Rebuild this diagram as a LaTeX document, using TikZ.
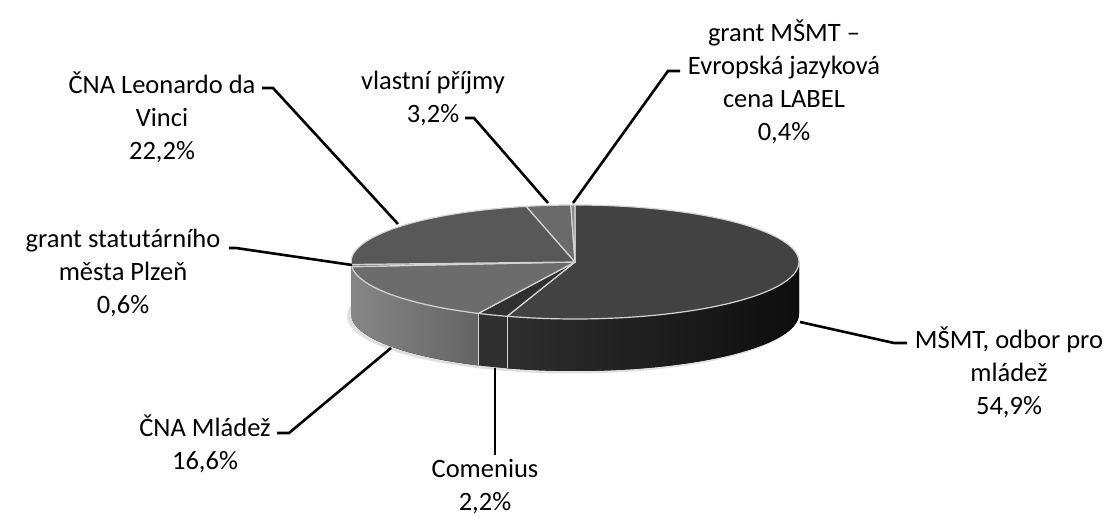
\documentclass[tikz,border=0pt]{standalone}
\usepackage{fontspec}
\setmainfont{Carlito}
\usetikzlibrary{calc,positioning}
\definecolor{mstop}{HTML}{424242}
\definecolor{msideL}{HTML}{2E2E2E}
\definecolor{msideR}{HTML}{0E0E0E}
\definecolor{comtop}{HTML}{303030}
\definecolor{mlatop}{HTML}{6C6C6C}
\definecolor{mlasideL}{HTML}{868686}
\definecolor{mlasideR}{HTML}{646464}
\definecolor{statop}{HTML}{6A6A6A}
\definecolor{leotop}{HTML}{585858}
\definecolor{vptop}{HTML}{6A6A6A}
\definecolor{labtop}{HTML}{8C8C8C}
\definecolor{rimline}{HTML}{D4D4D4}
\tikzset{
    rim/.style={
    x radius=224,y radius=57
    },
    lbl/.style={
    align=center,inner sep=0pt,font=\fontsize{13.25}{16.5}\selectfont
    },
    leader/.style={
    draw=black,line width=1.3pt
    },
    slice/.style={
    draw=rimline,line width=0.6pt,line join=round
    },
    pieshadow/.style={
    fill=black!12
    },
}
\begin{document}
\begin{tikzpicture}[x=0.5pt,y=0.5pt]
   \useasboundingbox (0,0) rectangle (1109,518);
   \coordinate (C) at (575,256);
   \coordinate (B) at (575,204);

   % shadow under the pie
   \fill[pieshadow] ([shift={(-3,-2)}]B) ellipse[x radius=225,y radius=57.5];

   % side faces
   \fill[left color=msideL,right color=msideR] ([shift={(0:224 and 57)}]C)
      arc[rim,start angle=0,end angle=-107.64] -- ++(0,-52)
      arc[rim,start angle=-107.64,end angle=0] -- cycle;
   \fill[comtop] ([shift={(-107.64:224 and 57)}]C)
      arc[rim,start angle=-107.64,end angle=-115.56] -- ++(0,-52)
      arc[rim,start angle=-115.56,end angle=-107.64] -- cycle;
   \fill[left color=mlasideL,right color=mlasideR] ([shift={(-115.56:224 and 57)}]C)
      arc[rim,start angle=-115.56,end angle=-175.32] -- ++(0,-52)
      arc[rim,start angle=-175.32,end angle=-115.56] -- cycle;
   \fill[mlasideL] ([shift={(-175.32:224 and 57)}]C)
      arc[rim,start angle=-175.32,end angle=-180] -- ++(0,-52)
      arc[rim,start angle=-180,end angle=-175.32] -- cycle;
   \draw[slice] ([shift={(-107.64:224 and 57)}]C) -- ++(0,-52);
   \draw[slice] ([shift={(-115.56:224 and 57)}]C) -- ++(0,-52);

   % top faces
   \filldraw[slice,fill=mstop] (C) -- ([shift={(90:224 and 57)}]C)
      arc[rim,start angle=90,end angle=-107.64] -- cycle;
   \filldraw[slice,fill=comtop] (C) -- ([shift={(-107.64:224 and 57)}]C)
      arc[rim,start angle=-107.64,end angle=-115.56] -- cycle;
   \filldraw[slice,fill=mlatop] (C) -- ([shift={(-115.56:224 and 57)}]C)
      arc[rim,start angle=-115.56,end angle=-175.32] -- cycle;
   \filldraw[slice,fill=statop] (C) -- ([shift={(-175.32:224 and 57)}]C)
      arc[rim,start angle=-175.32,end angle=-177.48] -- cycle;
   \filldraw[slice,fill=leotop] (C) -- ([shift={(-177.48:224 and 57)}]C)
      arc[rim,start angle=-177.48,end angle=-257.4] -- cycle;
   \filldraw[slice,fill=vptop] (C) -- ([shift={(-257.4:224 and 57)}]C)
      arc[rim,start angle=-257.4,end angle=-268.92] -- cycle;
   \filldraw[slice,fill=labtop] (C) -- ([shift={(-268.92:224 and 57)}]C)
      arc[rim,start angle=-268.92,end angle=-270] -- cycle;

   % labels
   \node[lbl] (leo) at (162,401) {ČNA Leonardo da\\Vinci\\22,2\%};
   \node[lbl] (vp)  at (433,419) {vlastní příjmy\\3,2\%};
   \node[lbl] (lab) at (784,436) {grant MŠMT –\\Evropská jazyková\\cena LABEL\\0,4\%};
   \node[lbl] (sta) at (123,245) {grant statutárního\\města Plzeň\\0,6\%};
   \node[lbl] (mla) at (205,74)  {ČNA Mládež\\16,6\%};
   \node[lbl] (com) at (485,31)  {Comenius\\2,2\%};
   \node[lbl] (msm) at (1009,146) {MŠMT, odbor pro\\mládež\\54,9\%};

   % leader ends on the pie
   \coordinate (leoEnd) at (398,294);
   \coordinate (vpEnd)  at (548,315);
   \coordinate (labEnd) at (573,315);
   \coordinate (staEnd) at (352,253);
   \coordinate (mlaEnd) at (391,170);
   \coordinate (comEnd) at (495,150);
   \coordinate (msmEnd) at (800,196);

   \draw[leader] ([shift={(100,29)}]leo.center) -- ++(11,0) -- (leoEnd);
   \draw[leader] ([shift={(32,-19)}]vp.center) -- ++(9,0) -- (vpEnd);
   \draw[leader] ([shift={(-104,11)}]lab.center) -- ++(-12,0) -- (labEnd);
   \draw[leader] ([shift={(106,25)}]sta.center) -- ++(7,0) -- (staEnd);
   \draw[leader] ([shift={(72,11)}]mla.center) -- ++(12,0) -- (mlaEnd);
   \draw[leader] ([shift={(10,32)}]com.center) -- (comEnd);
   \draw[leader] ([shift={(-102,29)}]msm.center) -- ++(-13,0) -- (msmEnd);
\end{tikzpicture}
\end{document}
